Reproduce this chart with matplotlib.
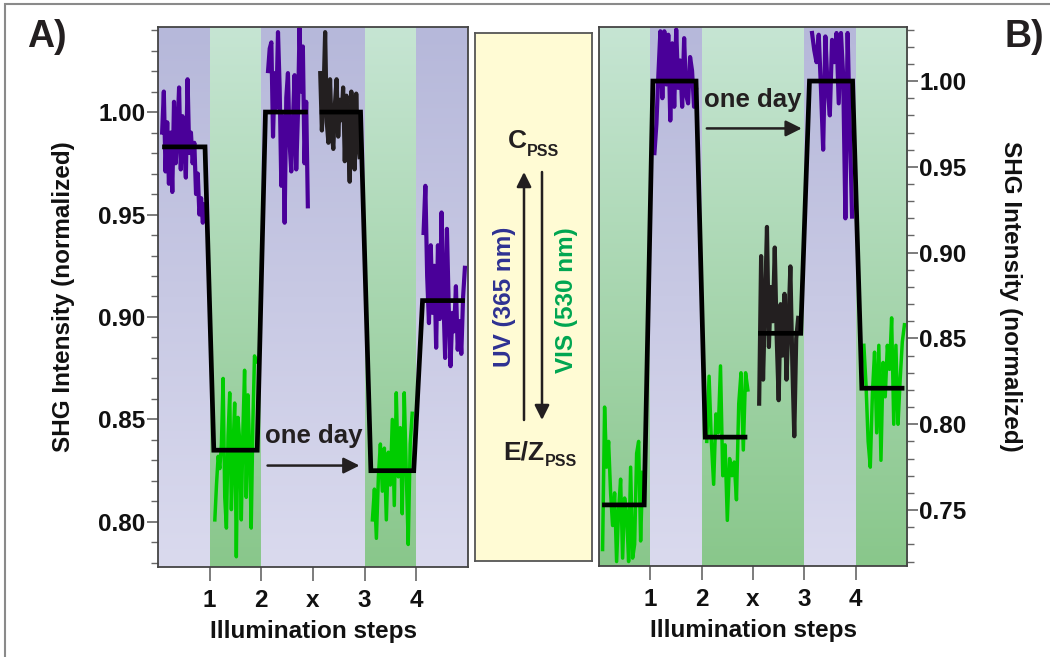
import numpy as np
import matplotlib
matplotlib.use('Agg')
from matplotlib import pyplot as plt
from matplotlib.patches import Rectangle
from matplotlib.ticker import MultipleLocator, FormatStrFormatter

plt.rcParams['font.family'] = ['Liberation Sans', 'DejaVu Sans']
plt.rcParams['font.weight'] = 'bold'

# x axis: illumination steps
tick_pos = [1, 2, 3, 4, 5]
tick_labels = ['1', '2', 'x', '3', '4']

# background band per step interval (0-1, 1-2, ... 5-6)
left_bands = ['uv', 'vis', 'uv', 'uv', 'vis', 'uv']
right_bands = ['vis', 'uv', 'vis', 'vis', 'uv', 'vis']

# ---- panel A traces: (colour, x start, x end, values) ----
a_purple1 = [0.990, 1.010, 0.971, 0.995, 0.965, 0.990, 0.961, 1.005, 0.975, 0.990,
             1.012, 0.972, 0.998, 0.985, 0.968, 1.016, 0.980, 0.990, 0.975, 0.985,
             0.960, 0.970, 0.950, 0.958, 0.946, 0.955]
a_green1 = [0.801, 0.818, 0.832, 0.826, 0.838, 0.870, 0.812, 0.797, 0.842, 0.863,
            0.806, 0.835, 0.858, 0.783, 0.851, 0.840, 0.801, 0.845, 0.874, 0.812,
            0.862, 0.836, 0.797, 0.848, 0.881, 0.878]
a_purple2 = [1.020, 1.031, 1.034, 0.988, 1.019, 1.002, 1.039, 1.012, 0.964, 0.998,
             0.946, 1.007, 1.019, 0.985, 0.971, 0.995, 1.018, 0.972, 0.998, 1.041,
             1.010, 1.032, 0.975, 1.005, 0.954]
a_black = [1.019, 0.991, 1.008, 1.039, 0.995, 0.985, 1.016, 0.990, 0.982, 1.004,
           1.016, 0.988, 1.006, 0.996, 1.012, 0.976, 1.008, 0.990, 0.966, 1.010,
           0.998, 0.972, 1.009, 0.985, 0.978]
a_green2 = [0.801, 0.816, 0.792, 0.822, 0.838, 0.815, 0.836, 0.801, 0.834, 0.818,
            0.850, 0.808, 0.863, 0.822, 0.846, 0.804, 0.863, 0.825, 0.789, 0.838,
            0.853]
a_purple3 = [0.941, 0.964, 0.920, 0.897, 0.935, 0.902, 0.925, 0.885, 0.935, 0.899,
             0.951, 0.910, 0.880, 0.943, 0.905, 0.876, 0.902, 0.893, 0.915, 0.884,
             0.898, 0.882, 0.910, 0.924]

# ---- panel B traces ----
b_green1 = [0.727, 0.810, 0.775, 0.790, 0.760, 0.741, 0.760, 0.720, 0.750, 0.768,
            0.722, 0.757, 0.748, 0.720, 0.775, 0.722, 0.730, 0.783, 0.790, 0.732,
            0.772]
b_purple1 = [0.958, 0.975, 1.004, 1.029, 0.990, 1.029, 0.998, 1.027, 0.977, 1.022,
             0.985, 1.030, 0.996, 1.012, 0.985, 1.025, 0.992, 0.987, 1.014, 1.006,
             0.985, 0.995]
b_green2 = [0.790, 0.828, 0.790, 0.765, 0.806, 0.795, 0.834, 0.770, 0.788, 0.744,
            0.780, 0.770, 0.778, 0.756, 0.812, 0.830, 0.785, 0.830, 0.820]
b_black = [0.812, 0.898, 0.826, 0.870, 0.915, 0.845, 0.880, 0.860, 0.903, 0.850,
           0.814, 0.870, 0.840, 0.876, 0.826, 0.858, 0.892, 0.835, 0.793, 0.850,
           0.862]
b_purple2 = [1.028, 1.018, 1.011, 1.027, 0.996, 0.960, 1.026, 0.996, 0.980, 1.024,
             1.011, 1.028, 0.987, 1.028, 1.003, 0.920, 1.028, 0.972, 0.921]
b_green3 = [0.846, 0.823, 0.790, 0.775, 0.818, 0.842, 0.795, 0.846, 0.779, 0.836,
            0.816, 0.846, 0.832, 0.862, 0.800, 0.846, 0.800, 0.826, 0.848, 0.858]

a_traces = [('purple', 0.08, 0.90, a_purple1), ('green', 1.10, 1.90, a_green1),
            ('purple', 2.13, 2.90, a_purple2), ('black', 3.14, 3.90, a_black),
            ('green', 4.15, 4.92, a_green2), ('purple', 5.14, 5.94, a_purple3)]
b_traces = [('green', 0.07, 0.85, b_green1), ('purple', 1.08, 1.89, b_purple1),
            ('green', 2.10, 2.90, b_green2), ('black', 3.12, 3.88, b_black),
            ('purple', 4.15, 4.93, b_purple2), ('green', 5.16, 5.95, b_green3)]

# mean levels (black step lines)
a_step1_x = [0.08, 0.91, 1.08, 1.92, 2.08, 2.90]
a_step1_y = [0.983, 0.983, 0.835, 0.835, 1.000, 1.000]
a_step2_x = [3.13, 3.92, 4.12, 4.95, 5.12, 5.94]
a_step2_y = [1.000, 1.000, 0.825, 0.825, 0.908, 0.908]
b_step1_x = [0.06, 0.88, 1.05, 1.89, 2.07, 2.89]
b_step1_y = [0.753, 0.753, 1.000, 1.000, 0.7925, 0.7925]
b_step2_x = [3.10, 3.93, 4.10, 4.94, 5.12, 5.95]
b_step2_y = [0.853, 0.853, 1.000, 1.000, 0.821, 0.821]

colors = {'purple': '#4a0099', 'green': '#00cc00', 'black': '#231f20'}
grad = {'uv': ('#b6b8da', '#dadaee'), 'vis': ('#c6e5d3', '#89c78b')}

FS = 17.5


def hex2rgb(h):
    return np.array([int(h[i:i + 2], 16) / 255 for i in (1, 3, 5)])


def draw_panel(ax, bands, traces, steps, ylim, ymaj, side):
    for i, b in enumerate(bands):
        top, bot = hex2rgb(grad[b][0]), hex2rgb(grad[b][1])
        t = np.linspace(0, 1, 128)[:, None, None]
        img = top * (1 - t) + bot * t
        ax.imshow(img, extent=(i, i + 1, ylim[0], ylim[1]), aspect='auto',
                  origin='upper', zorder=0, interpolation='bilinear')
    for c, x0, x1, vals in traces:
        xs = np.linspace(x0, x1, len(vals))
        ax.plot(xs, vals, color=colors[c], lw=3.0 if c != 'green' else 2.5,
                zorder=2, solid_joinstyle='round')
    for sx, sy in steps:
        ax.plot(sx, sy, color='black', lw=3.4, zorder=3, solid_joinstyle='miter',
                solid_capstyle='butt')
    ax.set_xlim(0, 6)
    ax.set_ylim(*ylim)
    ax.set_xticks(tick_pos)
    ax.set_xticklabels(tick_labels)
    ax.yaxis.set_major_locator(MultipleLocator(ymaj))
    ax.yaxis.set_minor_locator(MultipleLocator(0.01))
    ax.yaxis.set_major_formatter(FormatStrFormatter('%.2f'))
    ax.tick_params(axis='x', length=10, width=1.2, color='#666', pad=6,
                   labelsize=FS, labelcolor='#111')
    ax.tick_params(axis='y', which='major', length=8, width=1.2, color='#666',
                   pad=1, labelsize=FS, labelcolor='#111')
    ax.tick_params(axis='y', which='minor', length=5, width=1.0, color='#666')
    if side == 'right':
        ax.yaxis.tick_right()
        ax.yaxis.set_label_position('right')
    for s in ax.spines.values():
        s.set_color('#444')
        s.set_linewidth(1.3)
    ax.set_xlabel('Illumination steps', fontsize=FS, fontweight='bold', color='#111')
    ax.xaxis.label.set_va('center')
    ax.xaxis.set_label_coords(0.5, -0.12)
    ax.set_ylabel('SHG Intensity (normalized)', fontsize=FS, fontweight='bold',
                  color='#111', rotation=90 if side == 'left' else 270)
    ax.yaxis.label.set_va('center')


fig = plt.figure(figsize=(10.5, 6.57), dpi=100)

# thin figure frame
fig.add_artist(Rectangle((5 / 1050, -0.02), 1.05, 1 - 4 / 657 + 0.02,
                         transform=fig.transFigure, fill=False,
                         edgecolor='#8a8a8a', lw=1.5))

axA = fig.add_axes([158 / 1050, 1 - 567 / 657, 310 / 1050, 540 / 657])
draw_panel(axA, left_bands, a_traces, [(a_step1_x, a_step1_y), (a_step2_x, a_step2_y)],
           (0.778, 1.0415), 0.05, 'left')
axA.yaxis.set_label_coords(-0.305, 0.5)
axA.text(3.02, 0.842, 'one day', ha='center', va='center', fontsize=18.5,
         fontweight='bold', color='#231f20')
axA.annotate('', xy=(3.9, 0.8275), xytext=(2.12, 0.8275),
             arrowprops=dict(arrowstyle='-|>', lw=1.8, color='#231f20',
                             mutation_scale=24, shrinkA=0, shrinkB=0))

axB = fig.add_axes([599 / 1050, 1 - 566 / 657, 308 / 1050, 539 / 657])
draw_panel(axB, right_bands, b_traces, [(b_step1_x, b_step1_y), (b_step2_x, b_step2_y)],
           (0.7174, 1.0315), 0.05, 'right')
axB.yaxis.set_label_coords(1.335, 0.5)
axB.text(3.0, 0.989, 'one day', ha='center', va='center', fontsize=18.5,
         fontweight='bold', color='#231f20')
axB.annotate('', xy=(3.95, 0.9724), xytext=(2.1, 0.9724),
             arrowprops=dict(arrowstyle='-|>', lw=1.8, color='#231f20',
                             mutation_scale=24, shrinkA=0, shrinkB=0))

# middle scheme box, drawn in pixel coordinates
axM = fig.add_axes([475 / 1050, 1 - 561 / 657, 117 / 1050, 528 / 657])
axM.set_facecolor('#fffbd4')
axM.set_xlim(475, 592)
axM.set_ylim(561, 33)
axM.set_xticks([])
axM.set_yticks([])
for s in axM.spines.values():
    s.set_color('#555')
    s.set_linewidth(1.3)
axM.text(517, 141, 'C', ha='center', va='center', fontsize=19, fontweight='bold',
         color='#231f20')
axM.text(527, 151, 'PSS', ha='left', va='center', fontsize=11.5, fontweight='bold',
         color='#231f20')
axM.text(524, 452, 'E/Z', ha='center', va='center', fontsize=19, fontweight='bold',
         color='#231f20')
axM.text(545, 461, 'PSS', ha='left', va='center', fontsize=11.5, fontweight='bold',
         color='#231f20')
axM.annotate('', xy=(524, 172), xytext=(524, 420),
             arrowprops=dict(arrowstyle='-|>', lw=1.8, color='#231f20',
                             mutation_scale=22, shrinkA=0, shrinkB=0))
axM.annotate('', xy=(542, 420), xytext=(542, 172),
             arrowprops=dict(arrowstyle='-|>', lw=1.8, color='#231f20',
                             mutation_scale=22, shrinkA=0, shrinkB=0))
axM.text(505, 297, 'UV (365 nm)', ha='center', va='center', rotation=90,
         fontsize=FS, fontweight='bold', color='#2e3192')
axM.text(567, 300, 'VIS (530 nm)', ha='center', va='center', rotation=90,
         fontsize=FS, fontweight='bold', color='#00a651')

fig.text(47 / 1050, 1 - 37 / 657, 'A)', ha='center', va='center', fontsize=27,
         fontweight='bold', color='#231f20')
fig.text(1024 / 1050, 1 - 37 / 657, 'B)', ha='center', va='center', fontsize=27,
         fontweight='bold', color='#231f20')

fig.savefig('out.png', dpi=100)
